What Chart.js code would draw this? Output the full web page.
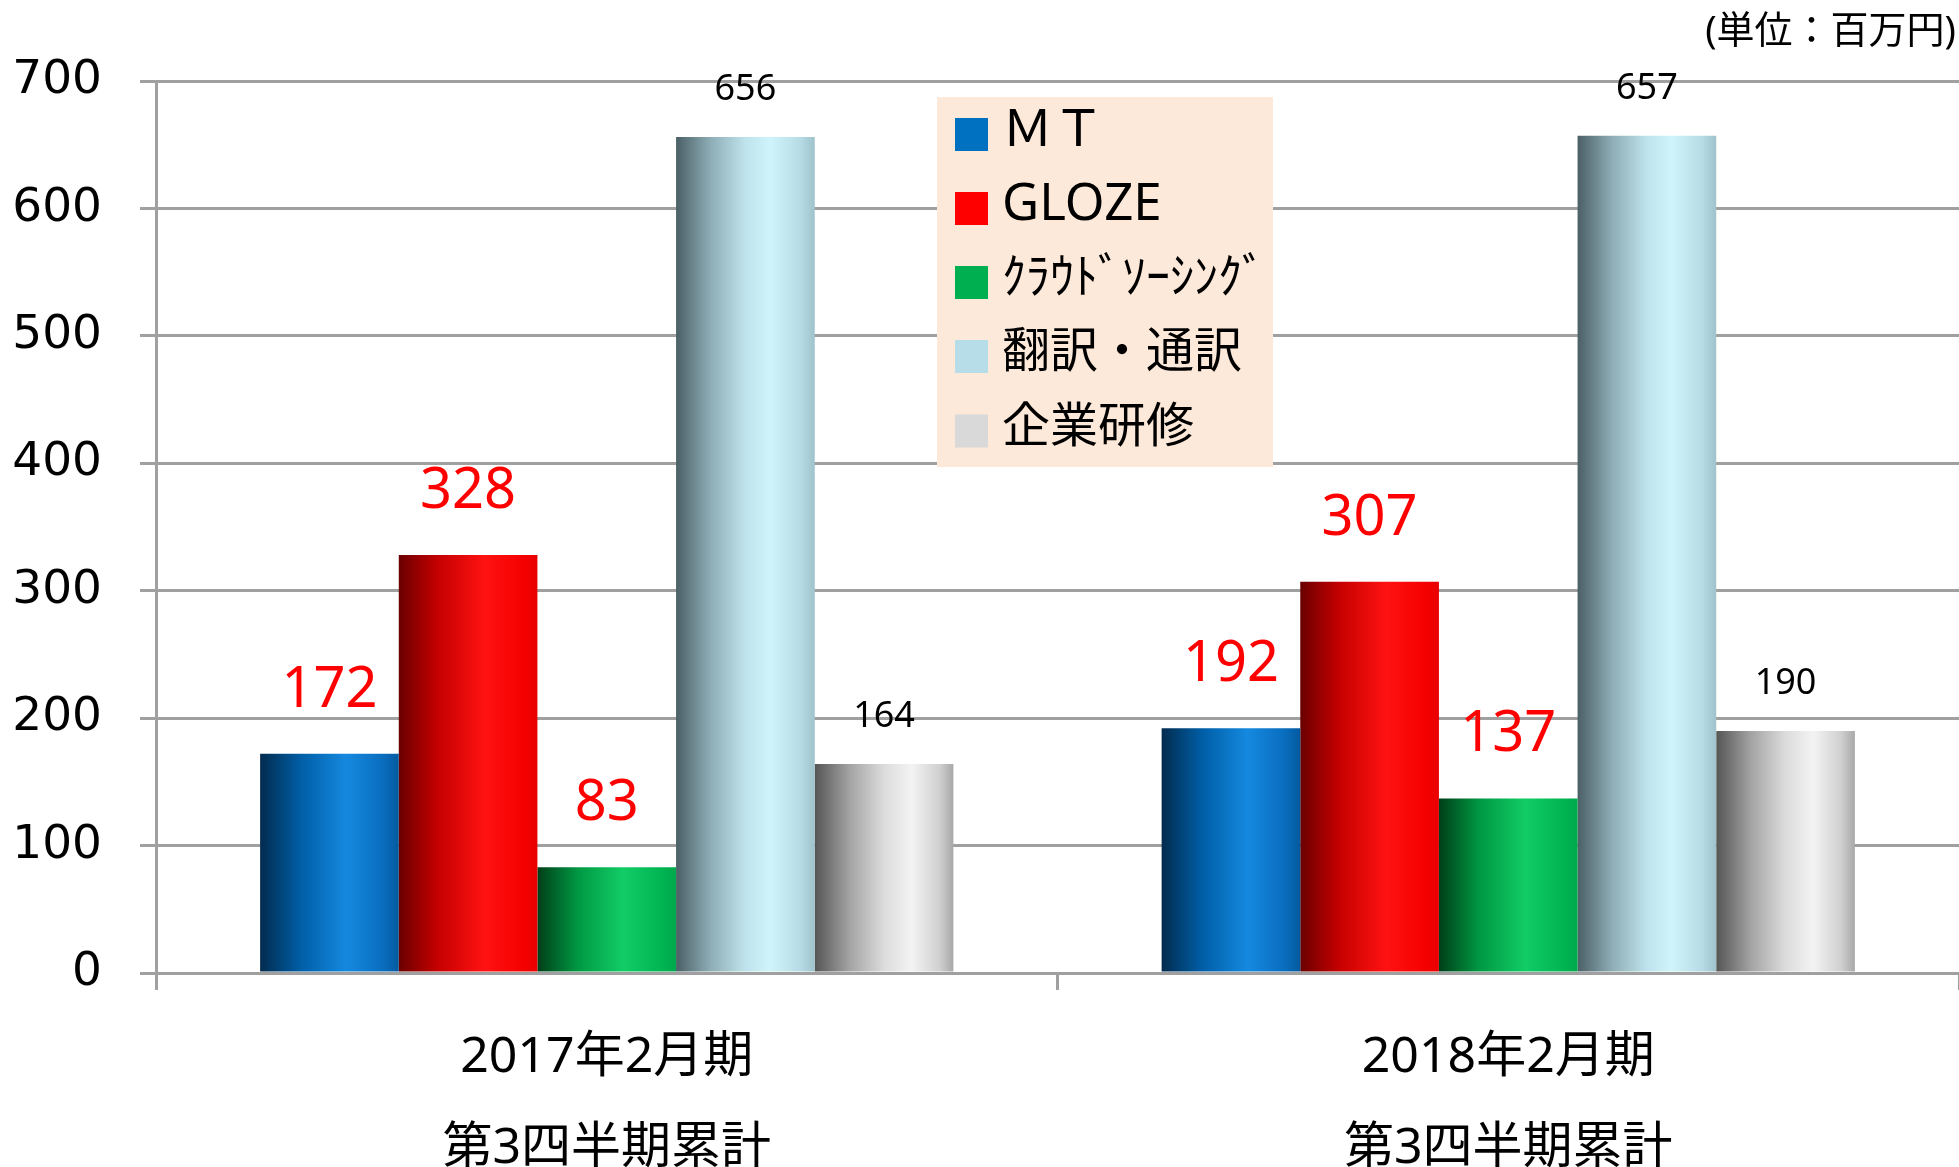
<!DOCTYPE html>
<html>
<head>
<meta charset="utf-8">
<script src="https://cdn.jsdelivr.net/npm/chart.js@4/dist/chart.umd.min.js"></script>
<style>
  html, body { margin: 0; padding: 0; background: #ffffff; }
  #wrap { width: 1959px; height: 1167px; }
</style>
</head>
<body>
<div id="wrap"><canvas id="c" width="1959" height="1167"></canvas></div>
<script>
// ---- data ----
const categories = [["2017年2月期", "第3四半期累計"], ["2018年2月期", "第3四半期累計"]];
const seriesNames = ["ＭＴ", "GLOZE", "ｸﾗｳﾄﾞｿｰｼﾝｸﾞ", "翻訳・通訳", "企業研修"];
const mtValues = [172, 192];
const glozeValues = [328, 307];
const crowdValues = [83, 137];
const translationValues = [656, 657];
const trainingValues = [164, 190];
const yTicks = [0, 100, 200, 300, 400, 500, 600, 700];
const unitLabel = "(単位：百万円)";

// ---- styles ----
const legendColors = ["#0070C0", "#FF0000", "#00B050", "#B7DEE8", "#D9D9D9"];
const legendFontSizes = [51, 51, 48, 48, 48];
const gradientStops = [
  [[0, "#022b4e"], [0.3, "#005fa8"], [0.62, "#1589df"], [0.88, "#0a6ec0"], [1, "#045a9e"]],
  [[0, "#6a0000"], [0.28, "#c50000"], [0.62, "#ff1212"], [0.9, "#f50000"], [1, "#e80000"]],
  [[0, "#003f18"], [0.3, "#009a44"], [0.62, "#12cc66"], [0.9, "#00b452"], [1, "#00a84c"]],
  [[0, "#4b5f66"], [0.25, "#8eadb6"], [0.5, "#bfe3ec"], [0.68, "#cff4fb"], [0.9, "#b6dbe4"], [1, "#9fc2cb"]],
  [[0, "#555555"], [0.25, "#a3a3a3"], [0.5, "#dcdcdc"], [0.7, "#f3f3f3"], [0.9, "#d0d0d0"], [1, "#a8a8a8"]]
];
const CAT_PCT = 0.769;

function barFill(di) {
  return function (ctx) {
    if (ctx.type !== 'data') return legendColors[di];
    const chart = ctx.chart;
    const xs = chart.scales.x;
    if (!xs || xs.right === undefined) return legendColors[di];
    const n = chart.data.labels.length;
    const catW = (xs.right - xs.left) / n;
    const groupW = catW * CAT_PCT;
    const nd = chart.data.datasets.length;
    const bw = groupW / nd;
    const center = xs.getPixelForValue(ctx.dataIndex);
    const left = center - groupW / 2 + di * bw;
    const g = chart.ctx.createLinearGradient(left, 0, left + bw, 0);
    gradientStops[di].forEach(s => g.addColorStop(s[0], s[1]));
    return g;
  };
}

const seriesValues = [mtValues, glozeValues, crowdValues, translationValues, trainingValues];

const datasets = seriesValues.map((vals, di) => ({
  label: seriesNames[di],
  data: vals,
  backgroundColor: barFill(di),
  borderWidth: 0,
  categoryPercentage: CAT_PCT,
  barPercentage: 1.0
}));

const valueLabelPlugin = {
  id: 'valueLabels',
  afterDatasetsDraw(chart) {
    const c = chart.ctx;
    c.save();
    c.textAlign = 'center';
    c.textBaseline = 'middle';
    chart.data.datasets.forEach((ds, di) => {
      const meta = chart.getDatasetMeta(di);
      meta.data.forEach((el, i) => {
        const v = ds.data[i];
        if (di < 3) {
          c.fillStyle = '#FF0000';
          c.font = '56px "Noto Sans", sans-serif';
          c.fillText(String(v), el.x, el.y - 63);
        } else {
          c.fillStyle = '#000000';
          c.font = '36px "Noto Sans", sans-serif';
          c.fillText(String(v), el.x, el.y - 47);
        }
      });
    });
    c.restore();
  }
};

const legendPlugin = {
  id: 'customLegend',
  afterDraw(chart) {
    const c = chart.ctx;
    c.save();
    // legend box
    const bx = 937, by = 97, bw = 336, bh = 370;
    c.fillStyle = '#FDE9D9';
    c.fillRect(bx, by, bw, bh);
    const rows = [134.5, 208.5, 282.5, 356.5, 431];
    c.textAlign = 'left';
    c.textBaseline = 'middle';
    chart.data.datasets.forEach((ds, di) => {
      c.fillStyle = legendColors[di];
      c.fillRect(955, rows[di] - 16.5, 33, 33);
      c.fillStyle = '#000000';
      c.font = legendFontSizes[di] + 'px "Noto Sans", "Noto Sans CJK JP", sans-serif';
      c.fillText(ds.label, 1002, rows[di] - 3);
    });
    // unit label
    c.textAlign = 'right';
    c.font = '38px "Noto Sans", "Noto Sans CJK JP", sans-serif';
    c.fillText(unitLabel, 1956, 32);
    c.restore();
  }
};

new Chart(document.getElementById('c'), {
  type: 'bar',
  data: { labels: categories, datasets: datasets },
  plugins: [valueLabelPlugin, legendPlugin],
  options: {
    responsive: false,
    animation: false,
    devicePixelRatio: 1,
    layout: { padding: { top: 81, left: 0, right: 0, bottom: 0 } },
    plugins: {
      legend: { display: false },
      tooltip: { enabled: false },
      title: { display: false }
    },
    scales: {
      x: {
        grid: {
          offset: true,
          drawOnChartArea: false,
          drawTicks: true,
          tickLength: 17,
          color: '#A0A0A0',
          lineWidth: 3
        },
        border: { display: true, color: '#A0A0A0', width: 3 },
        ticks: {
          color: '#000000',
          padding: 22,
          maxRotation: 0,
          autoSkip: false,
          font: { family: '"Noto Sans", "Noto Sans CJK JP", sans-serif', size: 50, lineHeight: 1.82 }
        },
        afterFit(scale) { scale.height = 194; }
      },
      y: {
        min: 0,
        max: 700,
        afterBuildTicks(scale) { scale.ticks = yTicks.map(v => ({ value: v })); },
        grid: {
          color: '#A0A0A0',
          lineWidth: 3,
          drawTicks: true,
          tickLength: 16
        },
        border: { display: true, color: '#A0A0A0', width: 3 },
        ticks: {
          color: '#000000',
          padding: 38,
          font: { family: '"DejaVu Sans", sans-serif', size: 47 }
        },
        afterFit(scale) { scale.width = 156; }
      }
    }
  }
});
</script>
</body>
</html>
